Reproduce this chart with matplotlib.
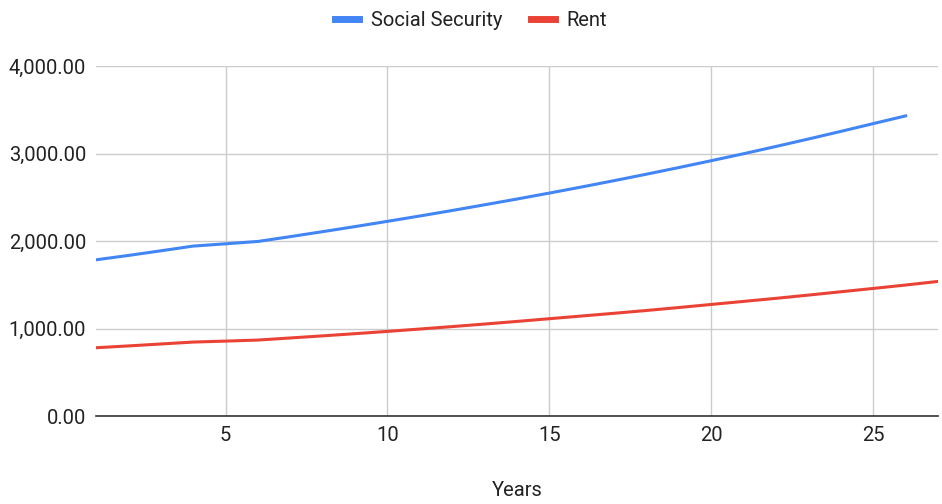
import matplotlib.pyplot as plt
from matplotlib.ticker import FuncFormatter

# data
years_ss = list(range(1, 27))
social_security = [1785, 1835, 1888, 1942, 1968, 1995, 2050, 2107, 2165, 2225,
                   2286, 2349, 2414, 2480, 2548, 2618, 2690, 2764, 2840, 2918,
                   2998, 3081, 3166, 3253, 3342, 3430]
years_rent = list(range(1, 28))
rent = [780, 801, 823, 845, 856, 868, 892, 916, 941, 967,
        994, 1022, 1051, 1081, 1112, 1143, 1174, 1206, 1240, 1275,
        1310, 1345, 1382, 1420, 1458, 1497, 1538]
x_ticks = [5, 10, 15, 20, 25]
y_ticks = [0, 1000, 2000, 3000, 4000]

plt.rcParams['font.family'] = ['Roboto', 'DejaVu Sans']

fig = plt.figure(figsize=(9.42, 5.04), dpi=100)
ax = fig.add_axes([0.1019, 0.1746, 0.8939, 0.6944])

ax.plot(years_ss, social_security, color='#4285F4', lw=2.2, label='Social Security')
ax.plot(years_rent, rent, color='#EA4335', lw=2.2, label='Rent')

ax.set_xlim(1, 27)
ax.set_ylim(0, 4000)
ax.set_xticks(x_ticks)
ax.set_yticks(y_ticks)
ax.yaxis.set_major_formatter(FuncFormatter(lambda v, p: f'{v:,.2f}'))
ax.tick_params(length=0, labelsize=14.5, colors='#222222')
ax.tick_params(axis='x', pad=7)
ax.tick_params(axis='y', pad=7)

ax.grid(True, color='#cccccc', lw=1)
ax.set_axisbelow(True)
for s in ['left', 'right', 'top']:
    ax.spines[s].set_visible(False)
ax.spines['bottom'].set_color('#333333')
ax.spines['bottom'].set_linewidth(1.2)
ax.spines['bottom'].set_zorder(3)

ax.set_xlabel('Years', fontsize=14.5, color='#222222', labelpad=26)

leg = fig.legend(loc='center', bbox_to_anchor=(0.5, 0.96), ncol=2, frameon=False,
                 fontsize=14.5, handlelength=1.2, handleheight=0.6, columnspacing=1.4,
                 handletextpad=0.6)
for h in leg.legend_handles:
    h.set_linewidth(5)
for t in leg.get_texts():
    t.set_color('#222222')

fig.savefig('out.png', dpi=100)
